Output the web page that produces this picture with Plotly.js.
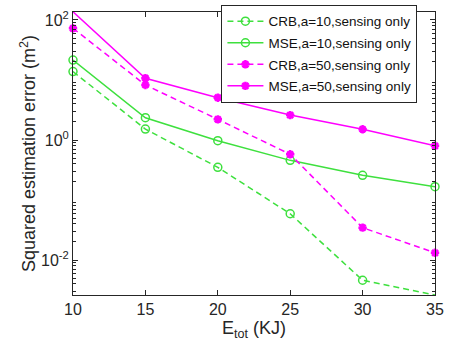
<!DOCTYPE html>
<html>
<head>
<meta charset="utf-8">
<script src="https://cdn.plot.ly/plotly-3.0.1.min.js"></script>
<style>html,body{margin:0;padding:0;background:#fff;}#chart{width:450px;height:350px;}</style>
</head>
<body>
<div id="chart"></div>
<script>
const energy = [10, 15, 20, 25, 30, 35];
const crbA10 = [13.8, 1.52, 0.35, 0.059, 0.0046, 0.0026];
const mseA10 = [21.5, 2.35, 0.975, 0.458, 0.258, 0.167];
const crbA50 = [72.7, 8.25, 2.21, 0.578, 0.0346, 0.0132];
const mseA50 = [137, 10.7, 5.07, 2.6, 1.51, 0.80];
const seriesNames = ['CRB,a=10,sensing only', 'MSE,a=10,sensing only', 'CRB,a=50,sensing only', 'MSE,a=50,sensing only'];
const yTickVals = [0.01, 1, 100];
const yTickText = ['10<sup>-2</sup>', '10<sup>0</sup>', '10<sup>2</sup>'];

const green = '#3ee03e';
const magenta = '#ff00ff';

function trace(y, name, color, dash, symbol, i) {
  return {
    x: energy, y: y, name: name, type: 'scatter', mode: 'lines+markers',
    legendgroup: 'g' + i,
    line: {color: color, width: 1.5, dash: dash},
    marker: symbol === 'circle'
      ? {symbol: 'circle-open', size: 8, color: color, line: {color: color, width: 1.5}}
      : {symbol: 'asterisk-open', size: 7, color: color, line: {color: color, width: 2.5}},
    cliponaxis: false
  };
}

const data = [
  trace(crbA10, seriesNames[0], green, '6px,4px', 'circle', 0),
  trace(mseA10, seriesNames[1], green, 'solid', 'circle', 1),
  trace(crbA50, seriesNames[2], magenta, '6px,4px', 'star', 2),
  trace(mseA50, seriesNames[3], magenta, 'solid', 'star', 3)
];

// minor tick positions on the log axis (2..9 in each decade)
const minorVals = [];
for (let e = -3; e <= 2; e++) {
  for (let m = 2; m <= 9; m++) minorVals.push(m * Math.pow(10, e));
}

const axisColor = '#262626';
const layout = {
  width: 450, height: 350,
  margin: {l: 73, r: 15, t: 12, b: 55, autoexpand: false},
  paper_bgcolor: '#fff', plot_bgcolor: '#fff',
  font: {family: 'Liberation Sans, Arial, sans-serif', size: 16, color: '#262626'},
  showlegend: true,
  legend: {
    x: 0.41, y: 1.025, xanchor: 'left', yanchor: 'top',
    bgcolor: '#fff', bordercolor: axisColor, borderwidth: 1,
    font: {size: 13.5, color: '#111'}, itemwidth: 36,
    traceorder: 'grouped', tracegroupgap: 1
  },
  xaxis: {
    range: [10, 35], tickmode: 'array', tickvals: energy,
    ticks: 'inside', ticklen: 5, tickcolor: axisColor,
    showline: true, linecolor: axisColor, linewidth: 1, mirror: 'allticks',
    showgrid: false, zeroline: false,
    tickfont: {size: 16},
    title: {text: 'E<sub>tot</sub> (KJ)', font: {size: 18}, standoff: 0}
  },
  yaxis: {
    type: 'log', range: [-2.583, 2.133],
    tickmode: 'array', tickvals: yTickVals, ticktext: yTickText,
    ticks: 'inside', ticklen: 5, tickcolor: axisColor,
    minor: {tickmode: 'array', tickvals: minorVals, ticks: 'inside', ticklen: 3, tickcolor: axisColor, showgrid: false},
    showline: true, linecolor: axisColor, linewidth: 1, mirror: 'allticks',
    showgrid: false, zeroline: false,
    tickfont: {size: 16},
    title: {text: 'Squared estimation error (m<sup>2</sup>)', font: {size: 18}, standoff: 0}
  }
};

Plotly.newPlot('chart', data, layout, {displayModeBar: false, staticPlot: true});
</script>
</body>
</html>
